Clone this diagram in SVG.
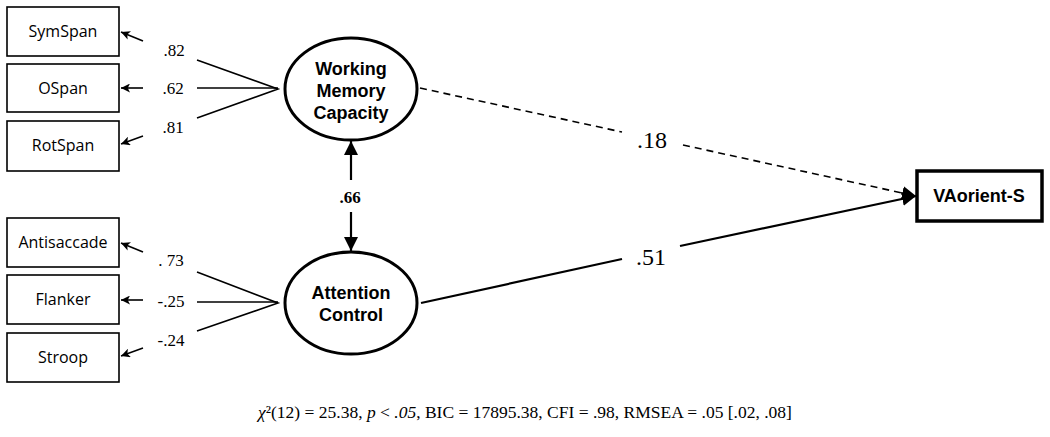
<svg xmlns="http://www.w3.org/2000/svg" width="1050" height="437" viewBox="0 0 1050 437">
<style>
.box{fill:#fff;stroke:#000;stroke-width:1.6}
.ell{fill:#fff;stroke:#000;stroke-width:3}
.bt{font-family:"Open Sans","Liberation Sans",sans-serif;font-size:16px;text-anchor:middle;fill:#000}
.et{font-family:"Liberation Sans",Arial,sans-serif;font-size:18px;font-weight:bold;text-anchor:middle;fill:#000}
.lab{font-family:"Liberation Serif","Times New Roman",serif;font-size:17px;text-anchor:middle;fill:#000}
.big{font-family:"Liberation Serif","Times New Roman",serif;font-size:24px;text-anchor:middle;fill:#000}
.ln{stroke:#000;stroke-width:1.6;fill:none}
</style>
<defs>
<marker id="sa" viewBox="0 0 10 10" refX="10" refY="5" markerWidth="9" markerHeight="9" markerUnits="userSpaceOnUse" orient="auto"><path d="M0,0 L10,5 L0,10 L2.5,5 Z" fill="#000"/></marker>
<marker id="ba" viewBox="0 0 10 10" refX="10" refY="5" markerWidth="14" markerHeight="14" markerUnits="userSpaceOnUse" orient="auto"><path d="M0,0 L10,5 L0,10 Z" fill="#000"/></marker>
</defs>
<rect width="1050" height="437" fill="#fff"/>
<g id="connectors">
<line class="ln" x1="143" y1="41" x2="121" y2="32" marker-end="url(#sa)"/>
<line class="ln" x1="143" y1="88" x2="121" y2="88" marker-end="url(#sa)"/>
<line class="ln" x1="143" y1="136" x2="121" y2="144" marker-end="url(#sa)"/>
<polyline class="ln" points="197,60 278,89 197,118"/>
<line class="ln" x1="197" y1="88" x2="278" y2="88"/>
<line class="ln" x1="143" y1="252" x2="121" y2="243" marker-end="url(#sa)"/>
<line class="ln" x1="143" y1="300" x2="121" y2="300" marker-end="url(#sa)"/>
<line class="ln" x1="143" y1="348" x2="121" y2="356" marker-end="url(#sa)"/>
<polyline class="ln" points="197,272 278,303 197,331"/>
<line class="ln" x1="197" y1="302" x2="278" y2="302"/>
<line x1="351" y1="180" x2="351" y2="141" stroke="#000" stroke-width="2.2" marker-end="url(#ba)"/>
<line x1="351" y1="212" x2="351" y2="251" stroke="#000" stroke-width="2.2" marker-end="url(#ba)"/>
<text class="lab" x="350" y="203" font-weight="bold" font-size="18px">.66</text>
<line x1="420" y1="88" x2="622" y2="132" stroke="#000" stroke-width="1.6" stroke-dasharray="7,5"/>
<line x1="683" y1="145" x2="916" y2="196" stroke="#000" stroke-width="1.6" stroke-dasharray="7,5" marker-end="url(#ba)"/>
<line x1="421" y1="303" x2="622" y2="259" stroke="#000" stroke-width="2.2"/>
<line x1="680" y1="246" x2="916" y2="196" stroke="#000" stroke-width="2.2" marker-end="url(#ba)"/>
<text class="big" x="652" y="148">.18</text>
<text class="big" x="651" y="265">.51</text>
<text class="lab" x="174" y="56">.82</text>
<text class="lab" x="173" y="94">.62</text>
<text class="lab" x="173" y="133">.81</text>
<text class="lab" x="171" y="266">. 73</text>
<text class="lab" x="171" y="307">-.25</text>
<text class="lab" x="171" y="346">-.24</text>
</g>
<g id="SymSpan"><rect class="box" x="7" y="7" width="112" height="49"/><text class="bt" x="63" y="37">SymSpan</text></g>
<g id="OSpan"><rect class="box" x="7" y="64" width="112" height="48"/><text class="bt" x="63" y="94">OSpan</text></g>
<g id="RotSpan"><rect class="box" x="7" y="121" width="112" height="50"/><text class="bt" x="63" y="151">RotSpan</text></g>
<g id="Antisaccade"><rect class="box" x="7" y="218" width="112" height="49"/><text class="bt" x="63" y="248">Antisaccade</text></g>
<g id="Flanker"><rect class="box" x="7" y="275" width="112" height="49"/><text class="bt" x="63" y="305">Flanker</text></g>
<g id="Stroop"><rect class="box" x="7" y="333" width="112" height="49"/><text class="bt" x="63" y="363">Stroop</text></g>
<g id="WMC"><ellipse class="ell" cx="351" cy="89" rx="66" ry="51"/><text class="et" x="351" y="75">Working</text><text class="et" x="351" y="97">Memory</text><text class="et" x="351" y="119">Capacity</text></g>
<g id="AC"><ellipse class="ell" cx="351" cy="303" rx="66" ry="51"/><text class="et" x="351" y="299">Attention</text><text class="et" x="351" y="321">Control</text></g>
<g id="VAorient"><rect x="917" y="171" width="125" height="50" fill="#fff" stroke="#000" stroke-width="3.5"/><text class="et" x="979" y="202" font-size="16px">VAorient-S</text></g>
<text x="525" y="418" font-family="Liberation Serif,Times New Roman,serif" font-size="17.5px" text-anchor="middle" fill="#000"><tspan font-style="italic">χ</tspan>²(12) = 25.38, <tspan font-style="italic">p</tspan> &lt; <tspan font-style="italic">.05</tspan>, BIC = 17895.38, CFI = .98, RMSEA = .05 [.02, .08]</text>
</svg>
